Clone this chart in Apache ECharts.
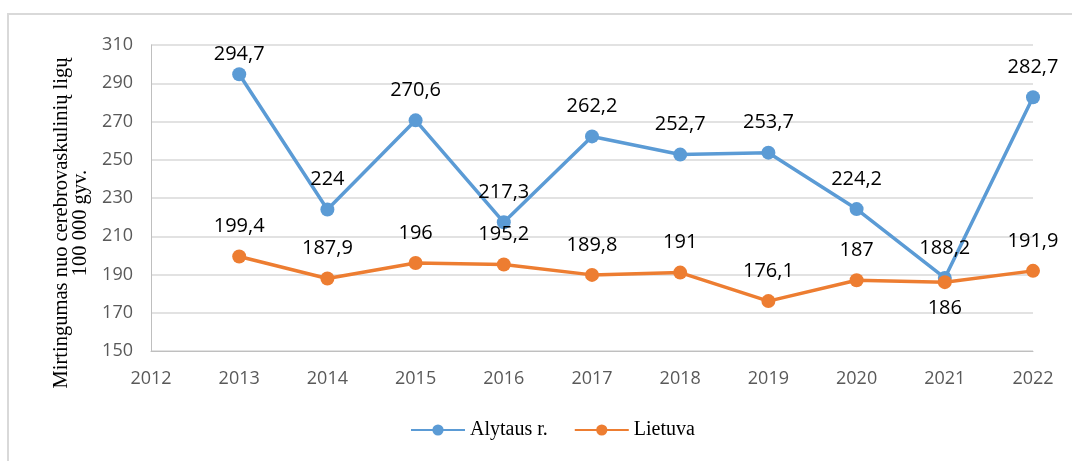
<!DOCTYPE html>
<html>
<head>
<meta charset="utf-8">
<script src="https://cdn.jsdelivr.net/npm/echarts@6/dist/echarts.min.js"></script>
<style>
html,body{margin:0;padding:0;background:#fff;}
#frame{position:absolute;left:7px;top:13px;width:1065px;height:448px;border-left:2px solid #d9d9d9;border-top:2px solid #d9d9d9;box-sizing:border-box;}
#chart{position:absolute;left:0;top:0;width:1072px;height:461px;}
</style>
</head>
<body>
<div id="frame"></div>
<div id="chart"></div>
<script>
// metai, 2012 be duomenu
var years = ['2012','2013','2014','2015','2016','2017','2018','2019','2020','2021','2022'];
var alytusData = [null, 294.7, 224, 270.6, 217.3, 262.2, 252.7, 253.7, 224.2, 188.2, 282.7];
var lietuvaData = [null, 199.4, 187.9, 196, 195.2, 189.8, 191, 176.1, 187, 186, 191.9];
var seriesNames = ['Alytaus r.', 'Lietuva'];
var yTicks = {min: 150, max: 310, interval: 20};

function fmt(v){ return String(v).replace('.', ','); }

var chart = echarts.init(document.getElementById('chart'));

var alytusSeriesData = alytusData.map(function(v, i){
	if (v === 294.7) return {value: v, label: {distance: 3}};
	return v;
});
var lietuvaSeriesData = lietuvaData.map(function(v, i){
	if (years[i] === '2021') return {value: v, label: {position: 'bottom', distance: 9}};
	return v;
});

var labelStyle = {
	show: true,
	position: 'top',
	distance: 13,
	color: '#000',
	fontSize: 20,
	fontFamily: 'Open Sans',
	formatter: function(p){ return fmt(p.value); }
};

var option = {
	animation: false,
	grid: {left: 151, right: 39, top: 45, bottom: 110, containLabel: false},
	legend: {
		bottom: 16,
		left: 405,
		itemWidth: 54,
		itemHeight: 14,
		itemGap: 26,
		textStyle: {fontFamily: 'Liberation Serif', fontSize: 20, color: '#000'},
		data: seriesNames
	},
	xAxis: {
		type: 'category',
		boundaryGap: false,
		data: years,
		axisTick: {show: false},
		axisLine: {lineStyle: {color: '#bfbfbf', width: 1}},
		axisLabel: {color: '#595959', fontSize: 18, fontFamily: 'Open Sans', margin: 19}
	},
	yAxis: {
		type: 'value',
		min: yTicks.min,
		max: yTicks.max,
		interval: yTicks.interval,
		name: 'Mirtingumas nuo cerebrovaskulinių ligų\n100 000 gyv.',
		nameLocation: 'middle',
		nameGap: 61,
		nameTextStyle: {fontFamily: 'Liberation Serif', fontSize: 20.5, color: '#000', lineHeight: 19, padding: [0, 50, 0, 0]},
		axisLine: {show: true, lineStyle: {color: '#bfbfbf'}},
		axisTick: {show: false},
		splitLine: {lineStyle: {color: '#d9d9d9', width: 1.5}},
		axisLabel: {color: '#595959', fontSize: 18, fontFamily: 'Open Sans', margin: 18}
	},
	series: [{
		name: seriesNames[0],
		type: 'line',
		data: alytusSeriesData,
		color: '#5b9bd5',
		symbol: 'circle',
		symbolSize: 14,
		lineStyle: {width: 3.5, color: '#5b9bd5'},
		itemStyle: {color: '#5b9bd5'},
		label: labelStyle,
		z: 3
	}, {
		name: seriesNames[1],
		type: 'line',
		data: lietuvaSeriesData,
		color: '#ed7d31',
		symbol: 'circle',
		symbolSize: 14,
		lineStyle: {width: 3.5, color: '#ed7d31'},
		itemStyle: {color: '#ed7d31'},
		label: labelStyle,
		z: 4
	}]
};

chart.setOption(option);
</script>
</body>
</html>
